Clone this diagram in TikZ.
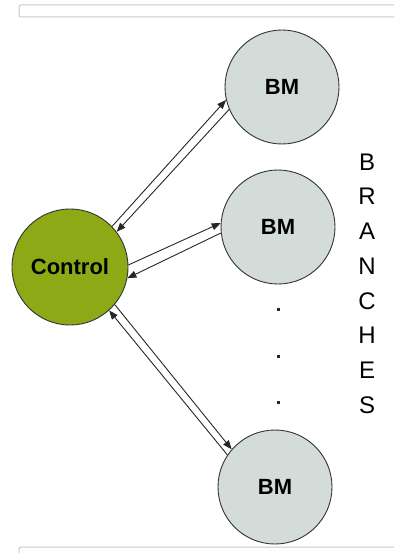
\documentclass[tikz,border=0pt]{standalone}
\usepackage{fontspec}
\setmainfont{Liberation Sans}
\usetikzlibrary{arrows.meta,shapes.geometric}

\definecolor{ctlgreen}{RGB}{141,170,22}
\definecolor{bmgray}{RGB}{211,220,217}
\definecolor{framegray}{RGB}{200,200,200}

\begin{document}
\begin{tikzpicture}[
  x=1pt, y=-1pt,
  ctlnode/.style={circle, draw=black!80, line width=0.9pt, fill=ctlgreen,
    minimum size=116pt, inner sep=0pt,
    font=\fontsize{22}{24}\selectfont\bfseries},
  bmnode/.style={circle, draw=black!80, line width=0.9pt, fill=bmgray,
    minimum size=114pt, inner sep=0pt,
    font=\fontsize{22}{24}\selectfont\bfseries},
  frame/.style={draw=framegray, line width=1pt, rounded corners=2pt, fill=white},
  arr/.style={-{Triangle[length=9pt,width=7pt]}, line width=0.9pt, black!85},
  dotnode/.style={fill=black!85, minimum size=3pt, inner sep=0pt},
  letter/.style={font=\fontsize{24}{26}\selectfont},
]
\useasboundingbox (0,0) rectangle (394,553);
\clip (0,0) rectangle (394,553);

%% page frames
\draw[frame] (19,5) rectangle (420,17);
\draw[frame] (19,547) rectangle (420,600);

%% nodes
\node[ctlnode] (ctl) at (70,267)  {Control};
\node[bmnode]  (bma) at (282,87)  {BM};
\node[bmnode]  (bmb) at (278,227) {BM};
\node[bmnode]  (bmc) at (275,487) {BM};

%% dots between branches
\foreach \y/\n in {309/1, 356/2, 402/3}
  \node[dotnode] (dot\n) at (278,\y) {};

%% vertical label
\foreach \c [count=\i from 0] in {B,R,A,N,C,H,E,S}
  \node[letter] (lt\i) at (367,162+34.7*\i) {\c};

%% links
\draw[arr] (ctl.44)  -- (bma.193);
\draw[arr] (bma.203) -- (ctl.37);
\draw[arr] (ctl.2)   -- (bmb.176);
\draw[arr] (bmb.186) -- (ctl.349);
\draw[arr] (ctl.320) -- (bmc.139);
\draw[arr] (bmc.146) -- (ctl.312);

\end{tikzpicture}
\end{document}
